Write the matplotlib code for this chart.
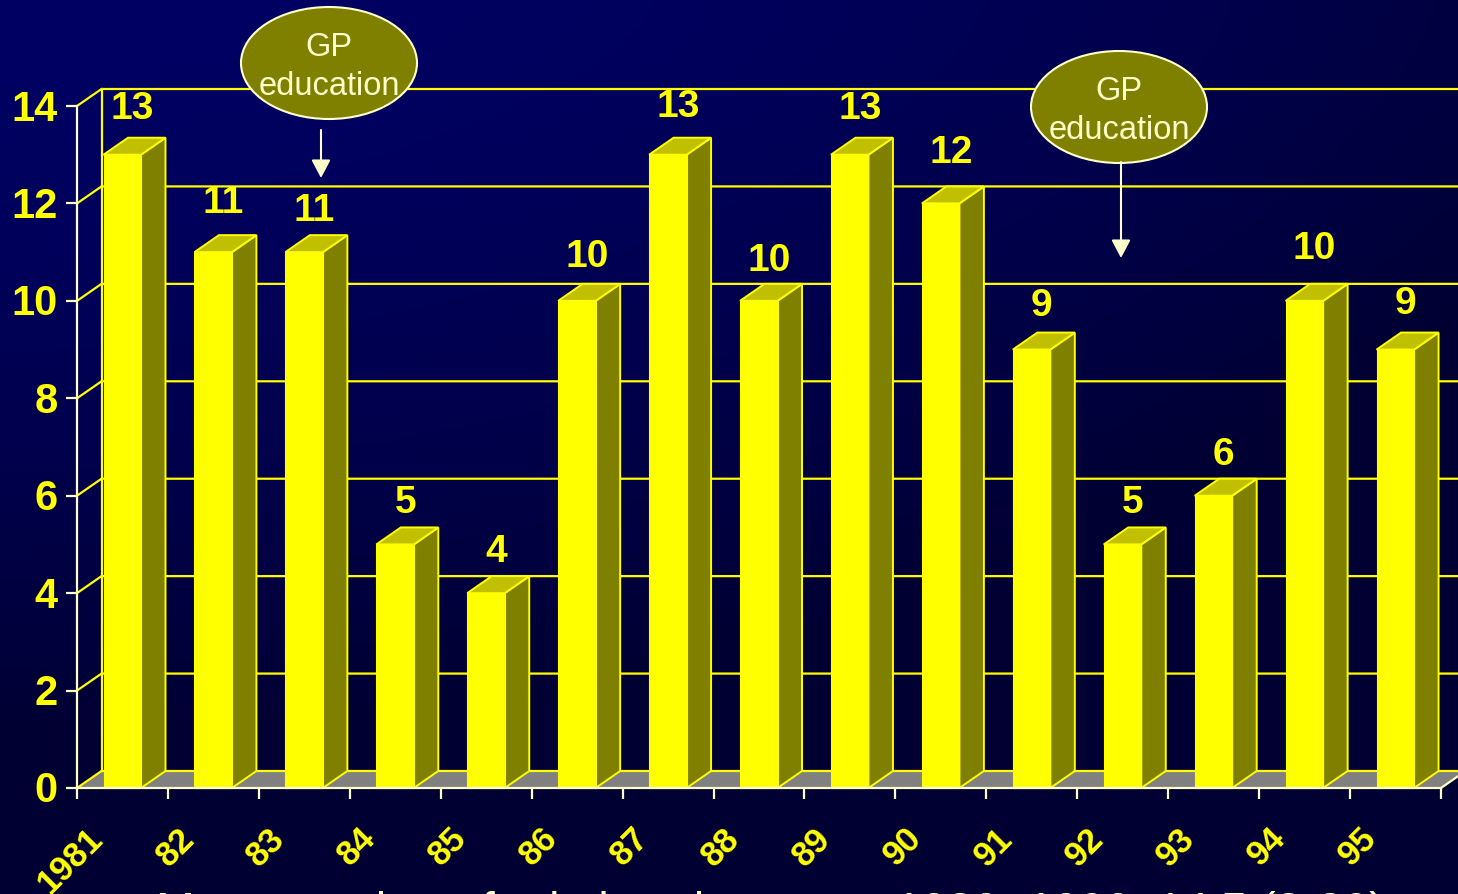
import numpy as np
import matplotlib
matplotlib.use('Agg')
import matplotlib.pyplot as plt
from matplotlib.patches import Polygon, Ellipse
from matplotlib.transforms import ScaledTranslation

plt.rcParams['font.family'] = ['Liberation Sans', 'DejaVu Sans']

years = ['1981', '82', '83', '84', '85', '86', '87', '88', '89', '90', '91', '92', '93', '94', '95']
counts = [13, 11, 11, 5, 4, 10, 13, 10, 13, 12, 9, 5, 6, 10, 9]
y_ticks = [0, 2, 4, 6, 8, 10, 12, 14]
# the value labels are hand placed in the original, pixels above the bar
label_lift = [30, 33, 25, 25, 25, 28, 32, 24, 30, 34, 28, 25, 25, 36, 30]
caption = 'Mean number of relatives between  1980- 1990: 14.5 (8-30)'

W, H = 1458, 895
YELLOW = '#ffff00'
OLIVE = '#808000'
TOP = '#c0c000'
CREAM = '#ffffcc'

fig = plt.figure(figsize=(W / 100, H / 100), dpi=100)

# background gradient
bg = fig.add_axes([0, 0, 1, 1], zorder=0)
gx, gy = np.meshgrid(np.linspace(0, 1, 300), np.linspace(0, 1, 200))
shade = 0x64 - (0x64 - 0x32) * np.clip(0.7 * gx ** 2 + 1.3 * gy ** 1.5, 0, 1)
img = np.dstack([np.zeros_like(shade), np.zeros_like(shade), shade / 255])
bg.imshow(img, aspect='auto', extent=[0, 1, 1, 0])
bg.axis('off')

# axes sit on the front plane of the fake 3d box
left, right, bottom, top = 77, 1441, 789, 107
ax = fig.add_axes([left / W, 1 - bottom / H, (right - left) / W, (bottom - top) / H], zorder=1)
ax.patch.set_alpha(0)
ax.set_xlim(0, len(years))
ax.set_ylim(0, 14)

px_x = len(years) / (right - left)
px_y = 14 / (bottom - top)
dx = 24.5 * px_x
dy = 17 * px_y
bar_w = 37.5 * px_x
x = np.arange(len(years)) + 26.5 * px_x

# floor and back wall
ax.add_patch(Polygon([(0, 0), (dx, dy), (len(years) + dx, dy), (len(years), 0)],
                     facecolor='#808080', edgecolor='none', clip_on=False, zorder=1))
ax.plot([dx, len(years) + dx], [dy, dy], color=YELLOW, lw=1.6, clip_on=False, zorder=1.5)
ax.plot([dx, dx], [dy, 14 + dy], color=YELLOW, lw=1.6, clip_on=False, zorder=1.5)
for v in y_ticks[1:]:
    ax.plot([0, dx, len(years) + dx], [v, v + dy, v + dy], color=YELLOW, lw=1.6, clip_on=False, zorder=1.5)
ax.plot([0, dx], [0, dy], color=YELLOW, lw=1.6, clip_on=False, zorder=1.5)
ax.plot([len(years), len(years) + dx], [0, dy], color=CREAM, lw=1.6, clip_on=False, zorder=1.5)

# bars: front from ax.bar, side and top faces added on
ax.bar(x, counts, width=bar_w, align='edge', color=YELLOW, edgecolor=YELLOW, linewidth=0.8, zorder=3, clip_on=False)
for xi, c in zip(x, counts):
    xr = xi + bar_w
    ax.add_patch(Polygon([(xr, 0), (xr + dx, dy), (xr + dx, c + dy), (xr, c)],
                         facecolor=OLIVE, edgecolor=YELLOW, lw=1.4, clip_on=False, zorder=2.8))
    ax.add_patch(Polygon([(xi, c), (xi + dx, c + dy), (xr + dx, c + dy), (xr, c)],
                         facecolor=TOP, edgecolor=YELLOW, lw=1.4, clip_on=False, zorder=2.9))

# value labels
for i, c in enumerate(counts):
    ax.annotate(str(c), (i + 0.5, c + dy), xytext=(10 * 0.72, label_lift[i] * 0.72), textcoords='offset points',
                ha='center', va='center', color=YELLOW, fontsize=28, fontweight='bold', zorder=6, clip_on=False)

# axis lines and ticks
for s in ['top', 'right']:
    ax.spines[s].set_visible(False)
for s in ['left', 'bottom']:
    ax.spines[s].set_color(CREAM)
    ax.spines[s].set_linewidth(1.6)
    ax.spines[s].set_zorder(5)
ax.set_yticks(y_ticks)
ax.set_yticklabels([str(v) for v in y_ticks], color=YELLOW, fontsize=30, fontweight='bold')
ax.set_xticks(np.arange(len(years) + 1))
ax.set_xticklabels([''] * (len(years) + 1))
ax.tick_params(axis='y', colors=CREAM, labelcolor=YELLOW, length=8, width=1.6, pad=6)
ax.tick_params(axis='x', colors=CREAM, length=8, width=1.6)
nudge = ScaledTranslation(0, 2 / 100, fig.dpi_scale_trans)
for lab in ax.get_yticklabels():
    lab.set_transform(lab.get_transform() + nudge)

# rotated year labels
for i, name in enumerate(years):
    ax.annotate(name, (i + 0.5, 0), xytext=(-17.5, -32), textcoords='offset points', rotation=45,
                rotation_mode='anchor', ha='right', va='center', color=YELLOW, fontsize=25,
                fontweight='bold', annotation_clip=False)

# callouts, in pixels on top of everything
over = fig.add_axes([0, 0, 1, 1], zorder=2)
over.set_xlim(0, W)
over.set_ylim(H, 0)
over.axis('off')
for cx, cy, ax_x, y0, y1 in [(329, 64, 321, 131, 179), (1119, 108, 1121, 163, 259)]:
    over.add_patch(Ellipse((cx, cy), 176, 112, facecolor=OLIVE, edgecolor=CREAM, lw=1.5))
    over.text(cx, cy - 17, 'GP', color=CREAM, fontsize=23.5, ha='center', va='center')
    over.text(cx, cy + 22, 'education', color=CREAM, fontsize=23.5, ha='center', va='center')
    over.annotate('', xy=(ax_x, y1), xytext=(ax_x, y0),
                  arrowprops=dict(arrowstyle='-|>,head_width=0.29,head_length=0.55', mutation_scale=20,
                                  color=CREAM, lw=1.5, shrinkA=0, shrinkB=0))

over.text(770, 891, caption, color=CREAM, fontsize=33.5, ha='center', va='top', clip_on=False)

fig.savefig('out.png', dpi=100)
